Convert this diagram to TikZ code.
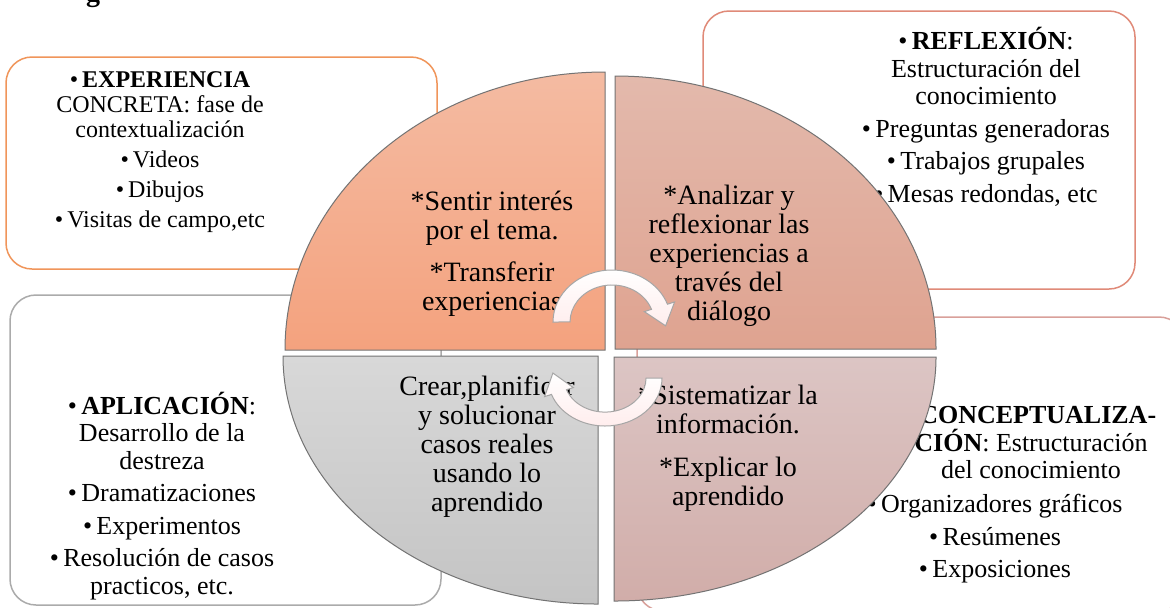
\documentclass[tikz,border=0pt]{standalone}
\usepackage{fontspec}
\setmainfont{Liberation Serif}

\definecolor{bordeExp}{HTML}{F0955A}
\definecolor{bordeRef}{HTML}{E08A78}
\definecolor{bordeApl}{HTML}{ABABAB}
\definecolor{bordeCon}{HTML}{D9A09A}
\definecolor{expArriba}{HTML}{F4BBA2}
\definecolor{expAbajo}{HTML}{F4A27E}
\definecolor{refArriba}{HTML}{E3B9AC}
\definecolor{refAbajo}{HTML}{DFA390}
\definecolor{aplArriba}{HTML}{D8D8D8}
\definecolor{aplAbajo}{HTML}{C4C4C4}
\definecolor{conArriba}{HTML}{DCC5C4}
\definecolor{conAbajo}{HTML}{D1ADA9}

\newcommand{\vineta}{\textbullet\,}

\tikzset{
  caja/.style={rounded corners=13pt, line width=0.75pt},
  sector/.style={draw=black!55, line width=0.5pt},
  flecha/.style={draw=black!35, line width=0.5pt, top color=white, bottom color=red!7!white},
  txtq/.style={align=center, inner sep=0pt, font=\fontsize{14}{14.5}\selectfont},
  txtc/.style={align=center, inner sep=0pt, font=\fontsize{13}{13.75}\selectfont}
}

\begin{document}
\begin{tikzpicture}[x=0.5pt, y=-0.5pt]

      \path[use as bounding box, fill=white] (0,0) rectangle (1170,607);

      % titulo recortado
      \node (titulo) at (93,1) [anchor=base, inner sep=0pt, font=\bfseries\fontsize{14}{14}\selectfont] {g};

      % cajas exteriores
      \draw[caja, draw=bordeExp] (6,57) rectangle (437,269);
      \draw[caja, draw=bordeRef] (703,11) rectangle (1135,289);
      \draw[caja, draw=bordeApl] (10,295) rectangle (441,605);
      \draw[caja, draw=bordeCon] (637,317) rectangle (1185,611);

      % textos de las cajas
      \node (experiencia) at (160,152) [txtc, font=\fontsize{12}{12.5}\selectfont]
        {\vineta\textbf{EXPERIENCIA}\\CONCRETA: fase de\\contextualización\\[2.5pt]
         \vineta Videos\\[2.5pt]\vineta Dibujos\\[2.5pt]\vineta Visitas de campo,etc};
      \node (reflexion) at (986,117) [txtc]
        {\vineta\textbf{REFLEXIÓN}:\\Estructuración del\\conocimiento\\[2.5pt]
         \vineta Preguntas generadoras\\[2.5pt]\vineta Trabajos grupales\\[2.5pt]\vineta Mesas redondas, etc};
      \node (aplicacion) at (162,496) [txtc]
        {\vineta\textbf{APLICACIÓN}:\\Desarrollo de la\\destreza\\[2.5pt]
         \vineta Dramatizaciones\\[2.5pt]\vineta Experimentos\\[2.5pt]\vineta Resolución de casos\\practicos, etc.};
      \node (conceptual) at (1031,443) [txtc]
        {\vineta\textbf{CONCEPTUALIZA-}\\\textbf{CIÓN}: Estructuración\\del conocimiento};
      \node (recursos) at (995,539) [txtc]
        {\vineta Organizadores gráficos\\[2.5pt]\vineta Resúmenes\\[2.5pt]\vineta Exposiciones};

      % cuadrantes del circulo
      \draw[sector, top color=expArriba, bottom color=expAbajo] (605,350) -- (605,72)
        arc[start angle=270, end angle=180, x radius=320, y radius=278] -- cycle;
      \draw[sector, top color=refArriba, bottom color=refAbajo] (615,349) -- (615,76)
        arc[start angle=270, end angle=360, x radius=321, y radius=273] -- cycle;
      \draw[sector, top color=aplArriba, bottom color=aplAbajo] (598,356) -- (598,604)
        arc[start angle=90, end angle=180, x radius=315, y radius=248] -- cycle;
      \draw[sector, top color=conArriba, bottom color=conAbajo] (614,357) -- (614,601)
        arc[start angle=90, end angle=0, x radius=322, y radius=244] -- cycle;

      % textos de los cuadrantes
      \node (sentir) at (492,254) [txtq] {*Sentir interés\\por el tema.\\[6.5pt]*Transferir\\experiencias};
      \node (analizar) at (729,256) [txtq] {*Analizar y\\reflexionar las\\experiencias a\\través del\\diálogo};
      \node (crear) at (487,447) [txtq] {Crear,planificar\\y solucionar\\casos reales\\usando lo\\aprendido};
      \node (sistematizar) at (728,448) [txtq] {*Sistematizar la\\información.\\[7pt]*Explicar lo\\aprendido};

      % flechas circulares
      \draw[flecha] (553,322) arc[start angle=180, end angle=340, x radius=59, y radius=52]
        -- (674.6,301.9) -- (665.6,325.8) -- (644.3,311.6) -- (651.5,309.3)
        arc[start angle=340, end angle=180, x radius=42, y radius=37] -- cycle;
      \draw[flecha] (662,378) arc[start angle=0, end angle=160, x radius=57, y radius=48]
        -- (544.6,396.6) -- (552.9,373.0) -- (573.3,387.6) -- (566.5,389.7)
        arc[start angle=160, end angle=0, x radius=41, y radius=34] -- cycle;

\end{tikzpicture}
\end{document}
